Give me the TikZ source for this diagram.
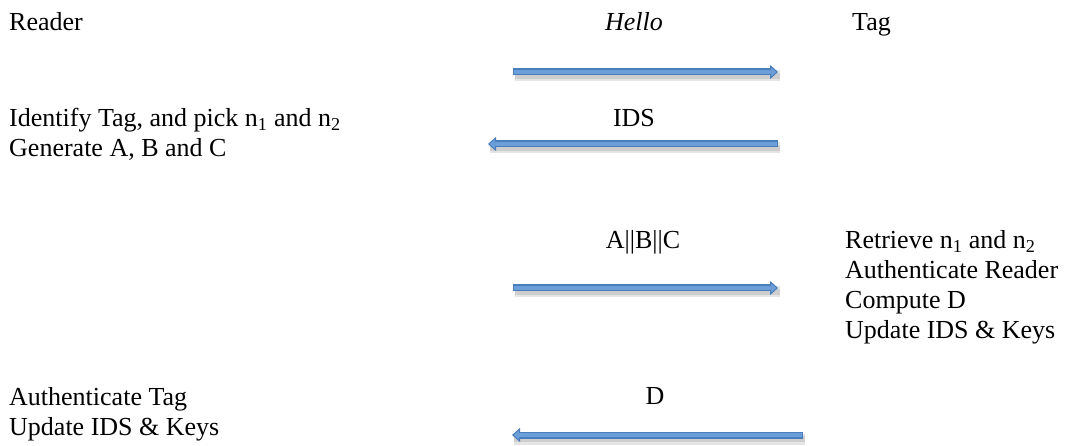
\documentclass[tikz,border=0pt]{standalone}
\usepackage{fontspec}
\setmainfont{Liberation Serif}
\usetikzlibrary{arrows.meta}
\definecolor{msgblue}{RGB}{108,158,218}
\definecolor{msgedge}{RGB}{74,126,187}
\tikzset{
  txt/.style={inner sep=0pt, anchor=base west, font=\fontsize{26}{30}\selectfont},
  lbl/.style={txt, anchor=base},
  msg/.style={line width=7pt, draw=msgedge, -{Triangle[length=8pt,width=14pt,line width=1pt,fill=msgblue]}},
  msginner/.style={line width=4.5pt, draw=msgblue, shorten >=7pt, shorten <=1.2pt},
  msgshade/.style={line width=#1, draw=black, opacity=0.1, transform canvas={shift={(2pt,-4pt)}}},
}
\begin{document}
\begin{tikzpicture}[x=1pt,y=-1pt]
			\useasboundingbox (0,0) rectangle (1066,446);
			% the two parties
			\node[txt] (reader) at (9  ,  31)  {Reader};
			\node[txt] (tag)    at (852,  31)  {Tag};
			% reader side
			\node[txt] (idf)    at (9  , 127)  {Identify Tag, and pick n\textsubscript{1} and n\textsubscript{2}};
			\node[txt] (gen)    at (9  , 157)  {Generate A, B and C};
			\node[txt] (autht)  at (9  , 405)  {Authenticate Tag};
			\node[txt] (updr)   at (9  , 435)  {Update IDS \& Keys};
			% tag side
			\node[txt] (ret)    at (845, 249)  {Retrieve n\textsubscript{1} and n\textsubscript{2}};
			\node[txt] (authr)  at (845, 279)  {Authenticate Reader};
			\node[txt] (comp)   at (845, 309)  {Compute D};
			\node[txt] (updt)   at (845, 339)  {Update IDS \& Keys};
			% messages
			\node[lbl] (hello)  at (634,  31)  {\itshape Hello};
			\node[lbl] (ids)    at (634, 127)  {IDS};
			\node[lbl] (abc)    at (643, 249)  {A||B||C};
			\node[lbl] (d)      at (655, 404)  {D};
			
			\coordinate (m1a) at (513,  72);  \coordinate (m1b) at (778,  72);
			\coordinate (m2a) at (778, 144);  \coordinate (m2b) at (488, 144);
			\coordinate (m3a) at (513, 288);  \coordinate (m3b) at (778, 288);
			\coordinate (m4a) at (803, 435);  \coordinate (m4b) at (512, 435);
			
			\def\msgs {m1a/m1b, m2a/m2b, m3a/m3b, m4a/m4b}  % shaded blue block arrows
			\foreach \u\v in \msgs
			{	\draw[msgshade=11pt] (\u) -- (\v);
				\draw[msgshade=6pt] (\u) -- (\v);
				\draw[msg] (\u) -- (\v);
				\draw[msginner] (\u) -- (\v);
			}
		\end{tikzpicture}
\end{document}
